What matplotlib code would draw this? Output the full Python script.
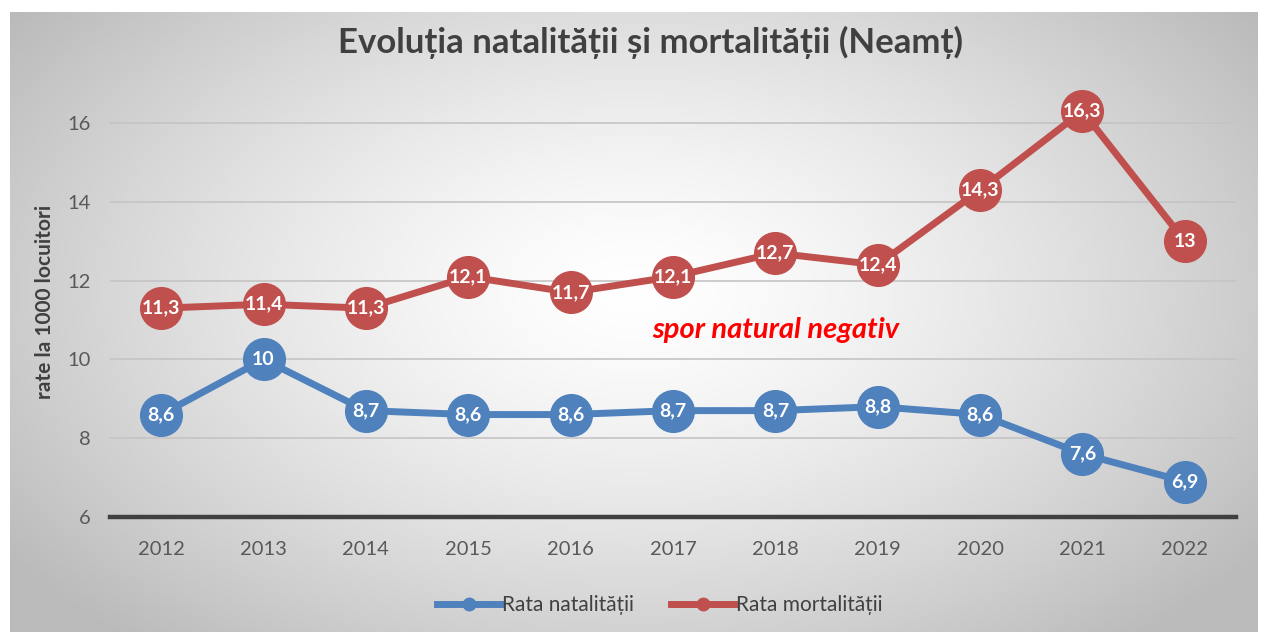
import numpy as np
import matplotlib
matplotlib.use("Agg")
import matplotlib.pyplot as plt
from matplotlib.lines import Line2D

plt.rcParams['font.family'] = ['Lato', 'DejaVu Sans']

years = [2012, 2013, 2014, 2015, 2016, 2017, 2018, 2019, 2020, 2021, 2022]
natalitate = [8.6, 10, 8.7, 8.6, 8.6, 8.7, 8.7, 8.8, 8.6, 7.6, 6.9]
mortalitate = [11.3, 11.4, 11.3, 12.1, 11.7, 12.1, 12.7, 12.4, 14.3, 16.3, 13]
yticks = [6, 8, 10, 12, 14, 16]
title = "Evoluția natalității și mortalității (Neamț)"
ylabel = "rate la 1000 locuitori"
series_names = ["Rata natalității", "Rata mortalității"]
annotation = "spor natural negativ"

BLUE = "#4F81BD"
RED = "#C0504D"

W, H = 1268, 635
fig = plt.figure(figsize=(W / 100, H / 100), dpi=100)
fig.patch.set_facecolor("white")

# background radial gradient panel
bx0, by0, bx1, by1 = 10, 12, 1258, 632
bg = fig.add_axes([bx0 / W, 1 - by1 / H, (bx1 - bx0) / W, (by1 - by0) / H])
bg.set_axis_off()
nx, ny = 400, 200
xx, yy = np.meshgrid(np.linspace(0, 1, nx), np.linspace(0, 1, ny))
cx, cy = 0.5, 0.45
r = np.sqrt(((xx - cx) / 0.62) ** 2 + ((yy - cy) / 0.75) ** 2)
r = np.clip(r, 0, 1)
val = 1.0 - 0.27 * r ** 1.4
img = np.dstack([val, val, val])
bg.imshow(img, aspect="auto", extent=[0, 1, 0, 1], origin="upper")
bg.set_xlim(0, 1)
bg.set_ylim(0, 1)

# main axes
px_per_unit = 39.4
y6 = 517
ytop_val = 17
ax_top = y6 - (ytop_val - 6) * px_per_unit
x_left, x_right = 110, 1236
ax = fig.add_axes([x_left / W, 1 - y6 / H, (x_right - x_left) / W, (y6 - ax_top) / H])
ax.patch.set_alpha(0)
ax.set_ylim(6, ytop_val)
ax.set_xlim(years[0] - 0.5, years[-1] + 0.5)
for s in ["top", "right", "left"]:
    ax.spines[s].set_visible(False)
ax.spines["bottom"].set_color("#404040")
ax.spines["bottom"].set_linewidth(3.2)
ax.set_yticks(yticks)
ax.set_xticks(years)
ax.tick_params(axis="both", length=0, labelsize=14.5, colors="#595959")
ax.tick_params(axis="x", pad=17)
ax.tick_params(axis="y", pad=14)
for t in yticks[1:]:
    ax.axhline(t, color="#c4c4c4", lw=1.2, zorder=1)

def fmt(v):
    if float(v).is_integer():
        return str(int(v))
    return ("%.1f" % v).replace(".", ",")

for data, color in [(natalitate, BLUE), (mortalitate, RED)]:
    ax.plot(years, data, color=color, lw=5, marker="o", markersize=30,
            markerfacecolor=color, markeredgecolor=color, zorder=3, clip_on=False)
    for x, v in zip(years, data):
        ax.text(x, v, fmt(v), ha="center", va="center", color="white",
                fontsize=14, fontweight="bold", zorder=4)

ax.text(2018.0, 10.75, annotation, color="#FF0000", fontsize=21,
        fontweight="bold", fontstyle="italic", ha="center", va="center")

fig.text(45 / W, 1 - 302 / H, ylabel, rotation=90, ha="center", va="center",
         fontsize=15, fontweight="bold", color="#404040")
fig.text(650 / W, 1 - 42 / H, title, ha="center", va="center",
         fontsize=25, fontweight="bold", color="#404040")

handles = [Line2D([0], [0], color=BLUE, lw=5, marker="o", markersize=9),
           Line2D([0], [0], color=RED, lw=5, marker="o", markersize=9)]
fig.legend(handles, series_names, loc="center", bbox_to_anchor=(660 / W, 1 - 605 / H),
           ncol=2, frameon=False, fontsize=15, handlelength=3.0, handletextpad=0.1,
           columnspacing=1.8, labelcolor="#404040")

fig.savefig("out.png", dpi=100, facecolor="white")
